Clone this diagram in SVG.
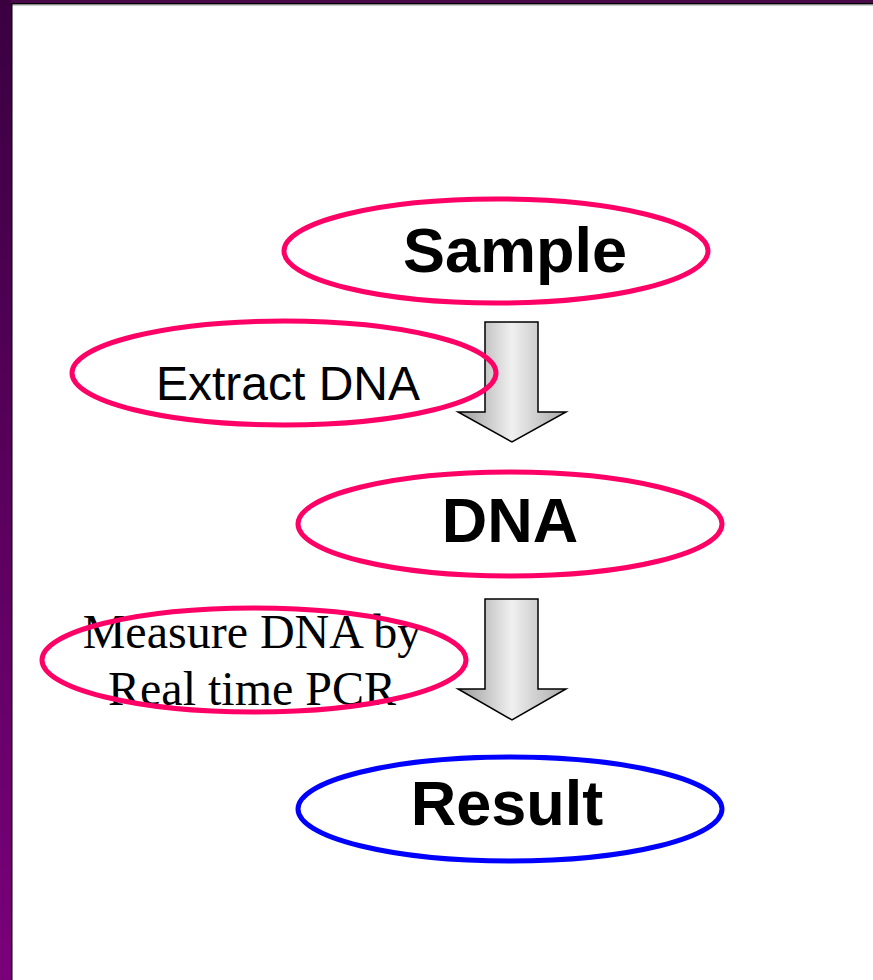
<svg xmlns="http://www.w3.org/2000/svg" width="873" height="980" viewBox="0 0 873 980">
<defs>
<linearGradient id="side" x1="0" y1="0" x2="0" y2="1">
<stop offset="0" stop-color="#3a0040"/>
<stop offset="1" stop-color="#7a007a"/>
</linearGradient>
<linearGradient id="shaft" x1="0" y1="0" x2="1" y2="0">
<stop offset="0" stop-color="#9a9a9a"/>
<stop offset="0.5" stop-color="#f0f0f0"/>
<stop offset="1" stop-color="#a8a8a8"/>
</linearGradient>
<style>
.pink{fill:none;stroke:#ff0066;stroke-width:5}
.blue{fill:none;stroke:#0000ff;stroke-width:5}
.big{font-family:"Liberation Sans",Arial,sans-serif;font-weight:bold;font-size:63px;fill:#000;text-anchor:middle}
.sans{font-family:"Liberation Sans",Arial,sans-serif;font-size:48px;fill:#000;text-anchor:middle}
.serif{font-family:"Liberation Serif","Times New Roman",serif;font-size:48px;fill:#000;text-anchor:middle}
.arrow{fill:url(#shaft);stroke:#000;stroke-width:1.5;stroke-linejoin:miter}
</style>
</defs>
<rect x="0" y="0" width="873" height="980" fill="#fff"/>
<rect x="0" y="0" width="873" height="3" fill="#4a0a4a"/>
<rect x="0" y="3" width="873" height="1.5" fill="#000"/>
<rect x="12" y="4.5" width="861" height="1" fill="#999"/>
<rect x="0" y="0" width="11" height="980" fill="url(#side)"/>
<rect x="11" y="3" width="1.5" height="977" fill="#000"/>
<g id="connectors">
<path class="arrow" d="M485,322 L538,322 L538,412 L566,412 L512,442 L458,412 L485,412 Z"/>
<path class="arrow" d="M485,599 L538,599 L538,689 L566,689 L512,720 L458,689 L485,689 Z"/>
</g>
<g id="sample">
<ellipse class="pink" cx="496" cy="251" rx="212" ry="52"/>
<text class="big" x="515" y="272">Sample</text>
</g>
<g id="extract">
<text class="sans" x="288" y="400">Extract DNA</text>
<ellipse class="pink" cx="284" cy="373" rx="212" ry="52"/>
</g>
<g id="dna">
<ellipse class="pink" cx="510" cy="524" rx="212" ry="52"/>
<text class="big" x="510" y="542">DNA</text>
</g>
<g id="measure">
<text class="serif" x="252" y="648">Measure DNA by</text>
<text class="serif" x="252" y="705">Real time PCR</text>
<ellipse class="pink" cx="254" cy="660" rx="212" ry="52"/>
</g>
<g id="result">
<ellipse class="blue" cx="510" cy="809" rx="212" ry="52"/>
<text class="big" x="507" y="825">Result</text>
</g>
</svg>
